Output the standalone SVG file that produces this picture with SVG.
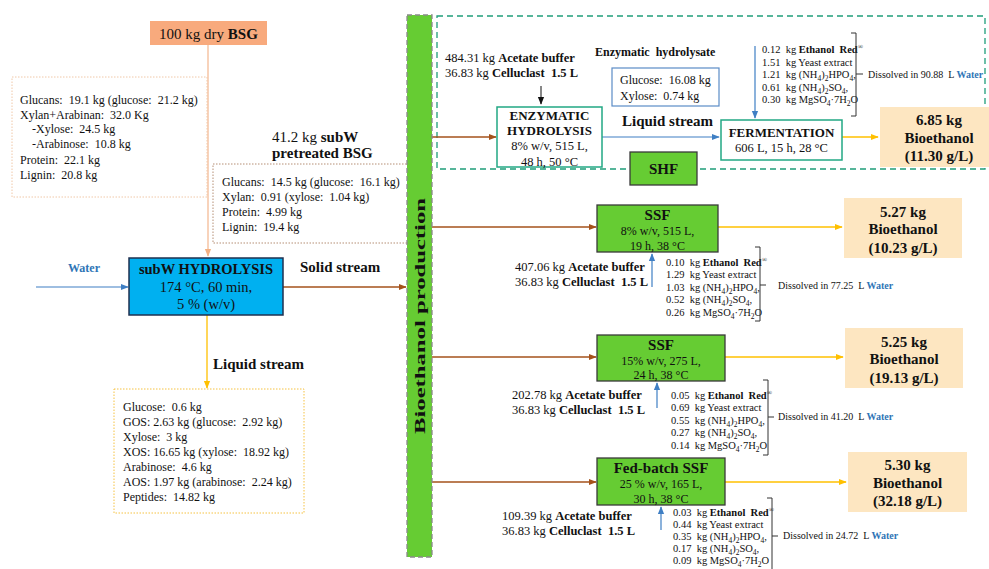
<svg xmlns="http://www.w3.org/2000/svg" width="989" height="569" viewBox="0 0 989 569" xml:space="preserve">
<style>
text { font-family: "Liberation Serif", "Times New Roman", serif; fill: #111; white-space: pre; }
.b { font-weight: bold; }
.t12 { font-size: 12px; }
.t125 { font-size: 12.5px; }
.t10 { font-size: 10.5px; }
.d10 { font-size: 10px; }
.h15 { font-size: 15px; font-weight: bold; }
.h13 { font-size: 13px; font-weight: bold; }
.sb { font-size: 7.5px; baseline-shift: -2.5px; }
.sp { font-size: 7px; baseline-shift: 4px; }
.wb { fill: #2e75b6; font-weight: bold; }
.mid { text-anchor: middle; }
.brown { stroke: #a5521b; stroke-width: 1.3; fill: none; }
.blue { stroke: #3f7fc4; stroke-width: 1.2; fill: none; }
.yel { stroke: #ffc000; stroke-width: 1.3; fill: none; }
.brk { stroke: #333; stroke-width: 1; fill: none; }
.teal { fill: #fff; stroke: #22a884; stroke-width: 1.5; }
.grn { fill: #66cc33; stroke: #3a3a3a; stroke-width: 1.3; }
.out { fill: #fde6c1; stroke: none; }
</style>
<defs>
<marker id="mBr" viewBox="0 0 10 10" refX="9" refY="5" markerWidth="8" markerHeight="8" markerUnits="userSpaceOnUse" orient="auto"><path d="M0,1 L10,5 L0,9 z" fill="#a5521b"/></marker>
<marker id="mBl" viewBox="0 0 10 10" refX="9" refY="5" markerWidth="8" markerHeight="8" markerUnits="userSpaceOnUse" orient="auto"><path d="M0,1 L10,5 L0,9 z" fill="#3f7fc4"/></marker>
<marker id="mY" viewBox="0 0 10 10" refX="9" refY="5" markerWidth="8" markerHeight="8" markerUnits="userSpaceOnUse" orient="auto"><path d="M0,1 L10,5 L0,9 z" fill="#ffc000"/></marker>
<marker id="mP" viewBox="0 0 10 10" refX="9" refY="5" markerWidth="8" markerHeight="8" markerUnits="userSpaceOnUse" orient="auto"><path d="M0,1 L10,5 L0,9 z" fill="#f4b183"/></marker>
<marker id="mK" viewBox="0 0 10 10" refX="9" refY="5" markerWidth="8" markerHeight="8" markerUnits="userSpaceOnUse" orient="auto"><path d="M0,1 L10,5 L0,9 z" fill="#111"/></marker>
</defs>
<rect width="989" height="569" fill="#fff"/>

<!-- SHF region -->
<rect id="shf-region" x="437" y="16" width="548" height="153" fill="none" stroke="#1f9d7a" stroke-width="1.3" stroke-dasharray="6 4"/>

<g id="connectors">
<line x1="208" y1="45" x2="208" y2="256" stroke="#f6c5a5" stroke-width="1.5" marker-end="url(#mP)"/>
<line x1="36" y1="287" x2="128" y2="287" class="blue" marker-end="url(#mBl)"/>
<line x1="283" y1="287" x2="406" y2="287" class="brown" marker-end="url(#mBr)"/>
<line x1="207" y1="315" x2="207" y2="388" class="yel" marker-end="url(#mY)"/>
<line x1="432" y1="137" x2="496" y2="137" class="brown" marker-end="url(#mBr)"/>
<line x1="541" y1="86" x2="541" y2="104" stroke="#111" stroke-width="1" marker-end="url(#mK)"/>
<line x1="602" y1="137" x2="719" y2="137" class="blue" marker-end="url(#mBl)"/>
<line x1="755" y1="46" x2="755" y2="118" class="blue" marker-end="url(#mBl)"/>
<line x1="842" y1="137" x2="878" y2="137" class="yel" marker-end="url(#mY)"/>
<line x1="432" y1="227" x2="596" y2="227" class="brown" marker-end="url(#mBr)"/>
<line x1="718" y1="227" x2="842" y2="227" class="yel" marker-end="url(#mY)"/>
<line x1="652" y1="287" x2="652" y2="254" class="blue" marker-end="url(#mBl)"/>
<line x1="432" y1="357" x2="596" y2="357" class="brown" marker-end="url(#mBr)"/>
<line x1="725" y1="357" x2="843" y2="357" class="yel" marker-end="url(#mY)"/>
<line x1="657" y1="408" x2="657" y2="383" class="blue" marker-end="url(#mBl)"/>
<line x1="432" y1="482" x2="596" y2="482" class="brown" marker-end="url(#mBr)"/>
<line x1="725" y1="482" x2="846" y2="482" class="yel" marker-end="url(#mY)"/>
<line x1="661" y1="530" x2="661" y2="507" class="blue" marker-end="url(#mBl)"/>
</g>

<g id="bsg">
<rect x="150" y="21" width="117" height="24" fill="#f8aa7d"/>
<text x="208.5" y="39" class="mid" font-size="15">100 kg dry <tspan class="b">BSG</tspan></text>
</g>

<g id="bsg-composition">
<rect x="12" y="77" width="195" height="120" fill="#fff" stroke="#f0c8a8" stroke-width="1" stroke-dasharray="1.5 1.5"/>
<text x="20" y="104" class="t12">Glucans:  19.1 kg (glucose:  21.2 kg)</text>
<text x="20" y="119" class="t12">Xylan+Arabinan:  32.0 Kg</text>
<text x="32" y="133" class="t12">-Xylose:  24.5 kg</text>
<text x="32" y="148" class="t12">-Arabinose:  10.8 kg</text>
<text x="20" y="164" class="t12">Protein:  22.1 kg</text>
<text x="20" y="179" class="t12">Lignin:  20.8 kg</text>
</g>

<g id="pretreated">
<text x="272" y="142" font-size="15">41.2 kg <tspan class="b">subW</tspan></text>
<text x="272" y="158" class="h15">pretreated BSG</text>
<rect x="213" y="164" width="200" height="79" fill="#fff" stroke="#b58e74" stroke-width="1" stroke-dasharray="1.5 1.5"/>
<text x="222" y="186" class="t12">Glucans:  14.5 kg (glucose:  16.1 kg)</text>
<text x="222" y="201" class="t12">Xylan:  0.91 (xylose:  1.04 kg)</text>
<text x="222" y="216" class="t12">Protein:  4.99 kg</text>
<text x="222" y="231" class="t12">Lignin:  19.4 kg</text>
</g>

<g id="subw-hydrolysis">
<text x="84" y="272" class="mid wb" font-size="12">Water</text>
<rect x="129" y="258" width="154" height="57" fill="#00b0f0" stroke="#1f3050" stroke-width="1.5"/>
<text x="206" y="274" class="mid b" font-size="14.5">subW HYDROLYSIS</text>
<text x="206" y="292" class="mid" font-size="14.5">174 °C, 60 min,</text>
<text x="206" y="309" class="mid" font-size="14.5">5 % (w/v)</text>
<text x="300" y="272" class="h15">Solid stream</text>
</g>

<g id="liquid-stream">
<text x="213" y="369" class="h15">Liquid stream</text>
<rect x="114" y="389" width="190" height="124" fill="#fff" stroke="#f5c242" stroke-width="1" stroke-dasharray="1.5 1.5"/>
<text x="123" y="411" class="t12">Glucose:  0.6 kg</text>
<text x="123" y="426" class="t12">GOS: 2.63 kg (glucose:  2.92 kg)</text>
<text x="123" y="441" class="t12">Xylose:  3 kg</text>
<text x="123" y="456" class="t12">XOS: 16.65 kg (xylose:  18.92 kg)</text>
<text x="123" y="471" class="t12">Arabinose:  4.6 kg</text>
<text x="123" y="486" class="t12">AOS: 1.97 kg (arabinose:  2.24 kg)</text>
<text x="123" y="501" class="t12">Peptides:  14.82 kg</text>
</g>

<g id="bioethanol-production">
<rect x="407" y="15" width="25" height="542" fill="#66cc33" stroke="#8a8a8a" stroke-width="1.3" stroke-dasharray="5 3"/>
<text transform="translate(425,316) rotate(-90)" class="mid b" font-size="15" textLength="236" lengthAdjust="spacingAndGlyphs">Bioethanol production</text>
</g>

<g id="enzymatic-hydrolysis">
<text x="445" y="61.5" class="t125">484.31 kg <tspan class="b">Acetate buffer</tspan></text>
<text x="445" y="76.5" class="t125">36.83 kg <tspan class="b">Celluclast  1.5 L</tspan></text>
<rect x="497" y="107" width="105" height="60" class="teal"/>
<text x="549.5" y="119.5" class="mid h13">ENZYMATIC</text>
<text x="549.5" y="134.5" class="mid h13">HYDROLYSIS</text>
<text x="549.5" y="150" class="mid t125">8% w/v, 515 L,</text>
<text x="549.5" y="165.5" class="mid t125">48 h, 50 °C</text>
</g>

<g id="hydrolysate">
<text x="595" y="56" class="b t12">Enzymatic  hydrolysate</text>
<rect x="612" y="68" width="107" height="38" fill="#fff" stroke="#5b8cc6" stroke-width="1.2"/>
<text x="620" y="84" class="t12">Glucose:  16.08 kg</text>
<text x="620" y="100" class="t12">Xylose:  0.74 kg</text>
<text x="622" y="126" class="h15">Liquid stream</text>
</g>

<g id="shf">
<rect x="630" y="152" width="67" height="33" class="grn"/>
<text x="663.5" y="173.5" class="mid h15">SHF</text>
</g>

<g id="fermentation">
<rect x="721" y="120" width="121" height="40" class="teal"/>
<text x="781.5" y="136.5" class="mid h13">FERMENTATION</text>
<text x="781.5" y="151.5" class="mid t125">606 L, 15 h, 28 °C</text>
</g>

<g id="shf-nutrients">
<text x="762" y="53" class="t10">0.12  kg <tspan class="b">Ethanol  Red</tspan><tspan class="sp">®</tspan></text>
<text x="762" y="65.5" class="t10">1.51  kg Yeast extract</text>
<text x="762" y="78" class="t10">1.21  kg (NH<tspan class="sb">4</tspan>)<tspan class="sb">2</tspan>HPO<tspan class="sb">4</tspan>,</text>
<text x="762" y="90.5" class="t10">0.61  kg (NH<tspan class="sb">4</tspan>)<tspan class="sb">2</tspan>SO<tspan class="sb">4</tspan>,</text>
<text x="762" y="103" class="t10">0.30  kg MgSO<tspan class="sb">4</tspan>·7H<tspan class="sb">2</tspan>O</text>
<path d="M851,33 H856 V116 H851 M856,74 H863" class="brk"/>
<text x="868" y="77.5" class="d10">Dissolved in 90.88  L <tspan class="wb">Water</tspan></text>
</g>

<g id="out-shf">
<rect x="880" y="107" width="115" height="60" class="out"/>
<text x="939" y="125" class="mid h15">6.85 kg</text>
<text x="939" y="143" class="mid h15">Bioethanol</text>
<text x="939" y="161" class="mid h15">(11.30 g/L)</text>
</g>

<g id="ssf1">
<rect x="597" y="205" width="121" height="47" class="grn"/>
<text x="657.5" y="219.5" class="mid h15">SSF</text>
<text x="657.5" y="235" class="mid t12">8% w/v, 515 L,</text>
<text x="657.5" y="249.5" class="mid t12">19 h, 38 °C</text>
</g>
<g id="ssf1-inputs">
<text x="515" y="271" class="t125">407.06 kg <tspan class="b">Acetate buffer</tspan></text>
<text x="515" y="286" class="t125">36.83 kg <tspan class="b">Celluclast  1.5 L</tspan></text>
<text x="666" y="265.5" class="t10">0.10  kg <tspan class="b">Ethanol  Red</tspan><tspan class="sp">®</tspan></text>
<text x="666" y="278" class="t10">1.29  kg Yeast extract</text>
<text x="666" y="290.5" class="t10">1.03  kg (NH<tspan class="sb">4</tspan>)<tspan class="sb">2</tspan>HPO<tspan class="sb">4</tspan>,</text>
<text x="666" y="303" class="t10">0.52  kg (NH<tspan class="sb">4</tspan>)<tspan class="sb">2</tspan>SO<tspan class="sb">4</tspan>,</text>
<text x="666" y="315.5" class="t10">0.26  kg MgSO<tspan class="sb">4</tspan>·7H<tspan class="sb">2</tspan>O</text>
<path d="M755,247 H760 V321 H755 M760,285 H766" class="brk"/>
<text x="778" y="288.5" class="d10">Dissolved in 77.25  L <tspan class="wb">Water</tspan></text>
</g>
<g id="out-ssf1">
<rect x="844" y="198" width="118" height="60" class="out"/>
<text x="903" y="217" class="mid h15">5.27 kg</text>
<text x="903" y="234" class="mid h15">Bioethanol</text>
<text x="903" y="253" class="mid h15">(10.23 g/L)</text>
</g>

<g id="ssf2">
<rect x="597" y="335" width="128" height="46" class="grn"/>
<text x="661" y="349.5" class="mid h15">SSF</text>
<text x="661" y="365" class="mid t12">15% w/v, 275 L,</text>
<text x="661" y="378.5" class="mid t12">24 h, 38 °C</text>
</g>
<g id="ssf2-inputs">
<text x="512" y="399" class="t125">202.78 kg <tspan class="b">Acetate buffer</tspan></text>
<text x="512" y="414" class="t125">36.83 kg <tspan class="b">Celluclast  1.5 L</tspan></text>
<text x="671" y="398.5" class="t10">0.05  kg <tspan class="b">Ethanol  Red</tspan><tspan class="sp">®</tspan></text>
<text x="671" y="411" class="t10">0.69  kg Yeast extract</text>
<text x="671" y="423.5" class="t10">0.55  kg (NH<tspan class="sb">4</tspan>)<tspan class="sb">2</tspan>HPO<tspan class="sb">4</tspan>,</text>
<text x="671" y="436" class="t10">0.27  kg (NH<tspan class="sb">4</tspan>)<tspan class="sb">2</tspan>SO<tspan class="sb">4</tspan>,</text>
<text x="671" y="448.5" class="t10">0.14  kg MgSO<tspan class="sb">4</tspan>·7H<tspan class="sb">2</tspan>O</text>
<path d="M763,380 H768 V455 H763 M768,417 H774" class="brk"/>
<text x="778" y="419.5" class="d10">Dissolved in 41.20  L <tspan class="wb">Water</tspan></text>
</g>
<g id="out-ssf2">
<rect x="845" y="328" width="118" height="60" class="out"/>
<text x="904" y="347" class="mid h15">5.25 kg</text>
<text x="904" y="364" class="mid h15">Bioethanol</text>
<text x="904" y="383" class="mid h15">(19.13 g/L)</text>
</g>

<g id="fed-batch-ssf">
<rect x="597" y="458" width="128" height="47" class="grn"/>
<text x="661" y="472.5" class="mid h15">Fed-batch SSF</text>
<text x="661" y="488" class="mid t12">25 % w/v, 165 L,</text>
<text x="661" y="503" class="mid t12">30 h, 38 °C</text>
</g>
<g id="fed-batch-inputs">
<text x="502" y="520" class="t125">109.39 kg <tspan class="b">Acetate buffer</tspan></text>
<text x="502" y="535" class="t125">36.83 kg <tspan class="b">Celluclast  1.5 L</tspan></text>
<text x="673" y="516" class="t10">0.03  kg <tspan class="b">Ethanol  Red</tspan><tspan class="sp">®</tspan></text>
<text x="673" y="528" class="t10">0.44  kg Yeast extract</text>
<text x="673" y="540" class="t10">0.35  kg (NH<tspan class="sb">4</tspan>)<tspan class="sb">2</tspan>HPO<tspan class="sb">4</tspan>,</text>
<text x="673" y="552" class="t10">0.17  kg (NH<tspan class="sb">4</tspan>)<tspan class="sb">2</tspan>SO<tspan class="sb">4</tspan>,</text>
<text x="673" y="564" class="t10">0.09  kg MgSO<tspan class="sb">4</tspan>·7H<tspan class="sb">2</tspan>O</text>
<path d="M767,498 H772 V575 M772,536 H778" class="brk"/>
<text x="783" y="538.5" class="d10">Dissolved in 24.72  L <tspan class="wb">Water</tspan></text>
</g>
<g id="out-fed-batch">
<rect x="848" y="452" width="119" height="60" class="out"/>
<text x="907.5" y="470" class="mid h15">5.30 kg</text>
<text x="907.5" y="488" class="mid h15">Bioethanol</text>
<text x="907.5" y="506" class="mid h15">(32.18 g/L)</text>
</g>
</svg>
